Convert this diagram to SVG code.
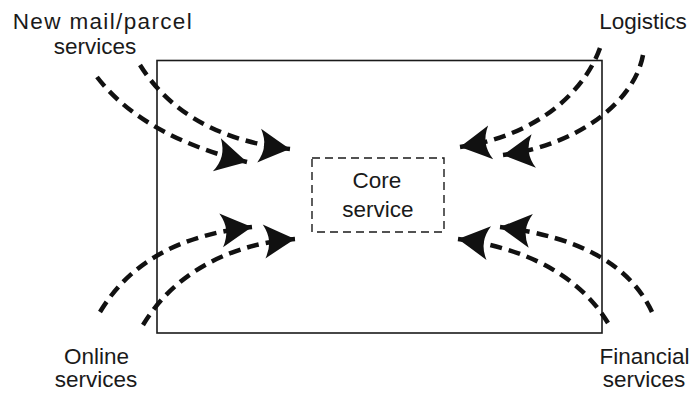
<svg xmlns="http://www.w3.org/2000/svg" width="693" height="393" viewBox="0 0 693 393">
  <style>
    .label { font-family: "Liberation Sans", Arial, Helvetica, sans-serif; font-size: 22.5px; fill: #1a1a1a; }
    .frame { fill: none; stroke: #1a1a1a; stroke-width: 1.6; }
    .core { fill: none; stroke: #1a1a1a; stroke-width: 1.4; stroke-dasharray: 8 5; }
    .flow { fill: none; stroke: #111; stroke-width: 4.5; stroke-dasharray: 12 7; marker-end: url(#stealth); }
  </style>
  <defs>
    <marker id="stealth" markerUnits="userSpaceOnUse" viewBox="-33 -19 35 38" refX="0" refY="0" markerWidth="35" markerHeight="38" orient="auto">
      <path d="M0,0 Q-14,-7.5 -31,-17 Q-26,-8 -26,0 Q-26,8 -31,17 Q-14,7.5 0,0 Z" fill="#111"/>
    </marker>
  </defs>

  <rect width="693" height="393" fill="#fff"/>

  <!-- outer boundary -->
  <g id="boundary">
    <rect class="frame" x="157" y="60.5" width="445" height="272.5"/>
  </g>

  <!-- core service box -->
  <g id="core-service">
    <rect class="core" x="312" y="158" width="132" height="74"/>
    <text class="label" x="377" y="188" text-anchor="middle">Core</text>
    <text class="label" x="378" y="217" text-anchor="middle">service</text>
  </g>

  <!-- corner labels -->
  <g id="mail-parcel">
    <text class="label" x="12.7" y="29" textLength="179" lengthAdjust="spacing">New mail/parcel</text>
    <text class="label" x="95" y="54" text-anchor="middle">services</text>
  </g>
  <g id="logistics">
    <text class="label" x="643" y="29" text-anchor="middle">Logistics</text>
  </g>
  <g id="online">
    <text class="label" x="96.5" y="364" text-anchor="middle">Online</text>
    <text class="label" x="96" y="387" text-anchor="middle">services</text>
  </g>
  <g id="financial">
    <text class="label" x="644.5" y="364" text-anchor="middle">Financial</text>
    <text class="label" x="644" y="387" text-anchor="middle">services</text>
  </g>

  <!-- dashed flows into the core -->
  <g id="connectors">
    <path class="flow" d="M97,77 C130,120 185,147 247,162"/>
    <path class="flow" d="M140,65 C165,105 210,140 290,149"/>
    <path class="flow" d="M600,48 C585,90 540,135 460,147"/>
    <path class="flow" d="M643,55 C635,100 580,145 503,155"/>
    <path class="flow" d="M100,312 C130,262 180,235 252,227"/>
    <path class="flow" d="M143,325 C170,280 220,245 295,239"/>
    <path class="flow" d="M608,323 C585,285 540,250 458,239"/>
    <path class="flow" d="M652,312 C630,265 580,237 500,227"/>
  </g>
</svg>
